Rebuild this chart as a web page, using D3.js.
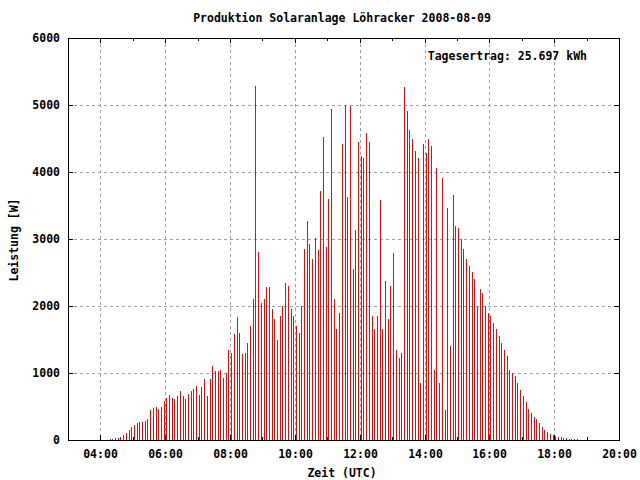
<!DOCTYPE html>
<html><head><meta charset="utf-8">
<script src="https://cdn.jsdelivr.net/npm/d3@7"></script>
<style>
body{margin:0;background:#fff}
svg{display:block}
text{font-family:"DejaVu Sans Mono","Liberation Mono",monospace;font-weight:bold;font-size:11.5px;fill:#000}
</style>
</head><body><svg id="c" width="640" height="480"></svg>
<script>
const title = "Produktion Solaranlage Löhracker 2008-08-09";
const xLabel = "Zeit (UTC)";
const yLabel = "Leistung [W]";
const energyLabel = "Tagesertrag: 25.697 kWh";

const times = [
"04:17","04:22","04:27","04:32","04:37","04:42","04:47","04:52","04:57",
"05:02","05:07","05:12","05:17","05:22","05:27","05:32","05:37","05:42","05:47","05:52","05:57",
"06:02","06:07","06:12","06:17","06:22","06:27","06:32","06:37","06:42","06:47","06:52","06:57",
"07:02","07:07","07:12","07:17","07:22","07:27","07:32","07:37","07:42","07:47","07:52","07:57",
"08:02","08:07","08:12","08:17","08:22","08:27","08:32","08:37","08:42","08:47","08:52","08:57",
"09:02","09:07","09:12","09:17","09:22","09:27","09:32","09:37","09:42","09:47","09:52","09:57",
"10:02","10:07","10:12","10:17","10:22","10:27","10:32","10:37","10:42","10:47","10:52","10:57",
"11:02","11:07","11:12","11:17","11:22","11:27","11:32","11:37","11:42","11:47","11:52","11:57",
"12:02","12:07","12:12","12:17","12:22","12:27","12:32","12:37","12:42","12:47","12:52","12:57",
"13:02","13:07","13:12","13:17","13:22","13:27","13:32","13:37","13:42","13:47","13:52","13:57",
"14:02","14:07","14:12","14:17","14:22","14:27","14:32","14:37","14:42","14:47","14:52","14:57",
"15:02","15:07","15:12","15:17","15:22","15:27","15:32","15:37","15:42","15:47","15:52","15:57",
"16:02","16:07","16:12","16:17","16:22","16:27","16:32","16:37","16:42","16:47","16:52","16:57",
"17:02","17:07","17:12","17:17","17:22","17:27","17:32","17:37","17:42","17:47","17:52","17:57",
"18:02","18:07","18:12","18:17","18:22","18:27","18:32","18:37","18:42"
];

const power = [
20,20,35,35,50,80,110,155,200,
230,260,275,275,290,320,455,485,500,470,500,575,
620,665,620,605,650,725,650,605,680,725,755,800,
665,785,905,650,905,1110,1035,1035,1050,920,1005,1350,
1305,1580,1830,1600,1290,1305,1455,1700,2100,5280,2800,2050,
2100,2280,2280,1950,1800,1500,1850,2000,2350,2300,1950,1850,
1700,1600,2000,2845,3275,2920,2695,3020,2830,3710,4515,2875,
3590,4935,2100,1650,1900,4425,4995,3620,4980,2545,3140,4455,
4245,4215,4575,4455,1850,1650,1850,3575,1650,2370,1800,2300,
2785,1350,1230,1300,5265,4905,4620,4490,4320,4205,850,4425,
4290,4500,4395,1050,4065,850,3905,450,3470,1400,3650,3190,
3170,3000,2850,2700,2600,2500,2400,2000,2250,2200,2000,1900,
1850,1750,1650,1550,1450,1350,1250,1050,1000,950,850,750,
650,560,470,400,350,310,257,200,150,115,90,72,
57,50,40,35,25,22,20,15,15
];

const xDomain = ["03:00","20:00"];
const xMajorTicks = ["04:00","06:00","08:00","10:00","12:00","14:00","16:00","18:00","20:00"];
const xMinorTicks = ["05:00","07:00","09:00","11:00","13:00","15:00","17:00","19:00"];
const xGridTicks = ["04:00","06:00","08:00","10:00","12:00","14:00","16:00","18:00"];
const yTicks = [0,1000,2000,3000,4000,5000,6000];
const yGridTicks = [1000,2000,3000,4000,5000];

const parse = d3.timeParse("%H:%M");
const fmt = d3.timeFormat("%H:%M");
const L = 68, R = 619, T = 38, B = 440;

const svg = d3.select("#c");
const x = d3.scaleTime().domain(xDomain.map(parse)).rangeRound([L, R]);
const y = d3.scaleLinear().domain([0, 6000]).rangeRound([B, T]);

// grid
const grid = svg.append("g").attr("stroke", "#a0a0a0").attr("stroke-width", 1).attr("stroke-dasharray", "3,3");
grid.selectAll("line.gx").data(xGridTicks.map(parse)).join("line")
  .attr("x1", d => x(d) + 0.5).attr("x2", d => x(d) + 0.5).attr("y1", T).attr("y2", B);
grid.selectAll("line.gy").data(yGridTicks).join("line")
  .attr("y1", d => y(d) + 0.5).attr("y2", d => y(d) + 0.5).attr("x1", L).attr("x2", R);

// impulses
svg.append("g").attr("stroke", "#ff0000").attr("stroke-width", 1)
  .selectAll("line").data(times.map((t, i) => ({t: parse(t), v: power[i]}))).join("line")
  .attr("x1", d => x(d.t) + 0.5).attr("x2", d => x(d.t) + 0.5)
  .attr("y1", y(0)).attr("y2", d => y(d.v));

function styleAxis(g) {
  g.select(".domain").remove();
  g.attr("font-family", null).attr("font-size", null);
  g.selectAll("line").attr("stroke", "#000");
  g.selectAll("text").attr("fill", "#000");
}

svg.append("g").attr("transform", `translate(0,${B})`)
  .call(d3.axisBottom(x).tickValues(xMajorTicks.map(parse)).tickFormat(fmt).tickSize(-5).tickPadding(9.5)).call(styleAxis);
svg.append("g").attr("transform", `translate(0,${B})`)
  .call(d3.axisBottom(x).tickValues(xMinorTicks.map(parse)).tickFormat("").tickSize(-3)).call(styleAxis);
svg.append("g").attr("transform", `translate(0,${T})`)
  .call(d3.axisTop(x).tickValues(xMajorTicks.map(parse)).tickFormat("").tickSize(-5)).call(styleAxis);
svg.append("g").attr("transform", `translate(0,${T})`)
  .call(d3.axisTop(x).tickValues(xMinorTicks.map(parse)).tickFormat("").tickSize(-3)).call(styleAxis);
svg.append("g").attr("transform", `translate(${L},0)`)
  .call(d3.axisLeft(y).tickValues(yTicks).tickFormat(d3.format("d")).tickSize(-5).tickPadding(8)).call(styleAxis);
svg.append("g").attr("transform", `translate(${R},0)`)
  .call(d3.axisRight(y).tickValues(yTicks).tickFormat("").tickSize(-5)).call(styleAxis);

// border
svg.append("rect").attr("x", L + 0.5).attr("y", T + 0.5).attr("width", R - L).attr("height", B - T)
  .attr("fill", "none").attr("stroke", "#000").attr("stroke-width", 1);

// texts
svg.append("text").attr("x", 342).attr("y", 22).attr("text-anchor", "middle").text(title);
svg.append("text").attr("x", 342).attr("y", 477).attr("text-anchor", "middle").text(xLabel);
svg.append("text").attr("transform", "translate(18,240) rotate(-90)").attr("text-anchor", "middle").text(yLabel);
svg.append("text").attr("x", 587).attr("y", 60).attr("text-anchor", "end").text(energyLabel);
</script>
</body></html>
